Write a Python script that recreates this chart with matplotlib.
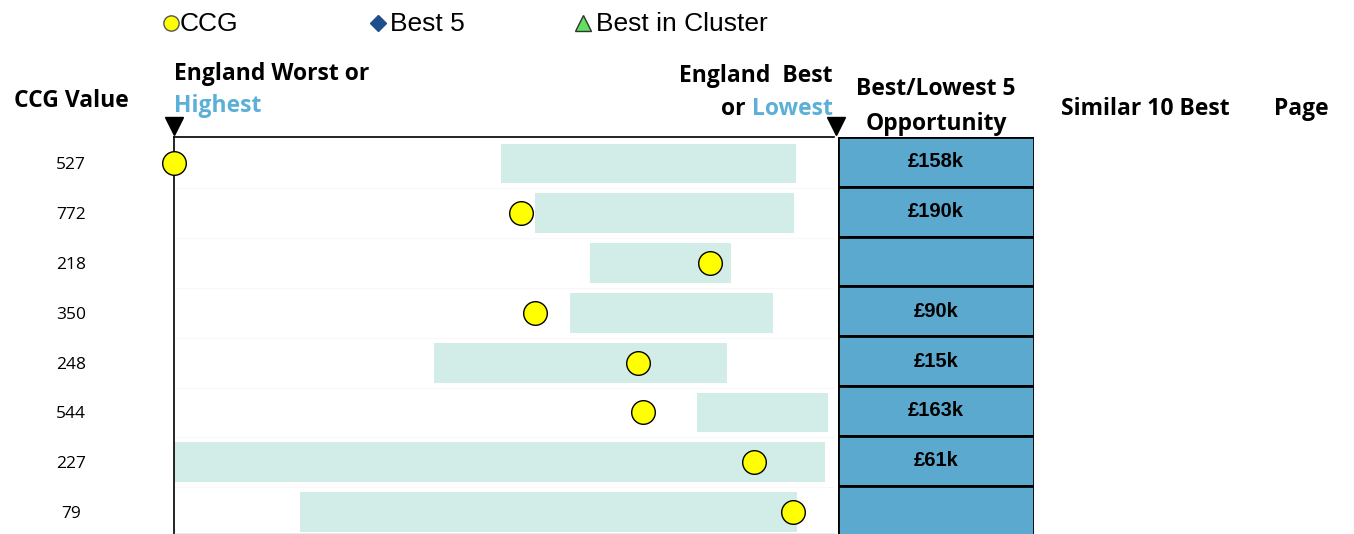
import matplotlib.pyplot as plt
from matplotlib.lines import Line2D

# data
ccg_values = [527, 772, 218, 350, 248, 544, 227, 79]
range_lo = [0.495, 0.547, 0.630, 0.600, 0.394, 0.792, 0.000, 0.191]
range_hi = [0.942, 0.939, 0.844, 0.908, 0.838, 0.991, 0.986, 0.944]
ccg_pos = [0.000, 0.526, 0.812, 0.547, 0.703, 0.711, 0.879, 0.938]
opportunity = ['£158k', '£190k', '', '£90k', '£15k', '£163k', '£61k', '']

W, H = 1354, 534
fig = plt.figure(figsize=(W / 100, H / 100), dpi=100)


def box(x0, y0, x1, y1):
    # pixel box (top-left origin) -> figure fraction rect
    return [x0 / W, 1 - y1 / H, (x1 - x0) / W, (y1 - y0) / H]


n = len(ccg_values)
rows = list(range(n))

ax = fig.add_axes(box(174, 137, 834, 534))
ax.barh(rows, [h - l for l, h in zip(range_lo, range_hi)], left=range_lo,
        height=0.8, color='#d2ece8', zorder=1)
ax.plot(ccg_pos, rows, 'o', ms=17, mfc='#ffff00', mec='black', mew=1,
        zorder=3, clip_on=False)
ax.set_xlim(0, 1)
ax.set_ylim(7.44, -0.532)
ax.set_xticks([])
ax.set_yticks([])
ax.spines['right'].set_visible(False)
ax.spines['left'].set_linewidth(1.2)
ax.spines['top'].set_linewidth(1.2)
ax.spines['bottom'].set_color('#999999')
ax.spines['bottom'].set_linewidth(1)
for i in range(1, n):
    ax.axhline(i - 0.5, color='#f8f8f8', lw=0.8, zorder=0)

# opportunity table
tab = fig.add_axes(box(838, 137, 1034, 534))
tab.barh(rows, [1] * n, left=0, height=1.0, color='#5ba9cf',
         edgecolor='black', linewidth=2)
for i, t in enumerate(opportunity):
    tab.text(0.5, i, t, ha='center', va='center', fontsize=14.5,
             fontweight='bold', family='Liberation Sans')
tab.set_xlim(0, 1)
tab.set_ylim(7.47, -0.5)
tab.axis('off')

# CCG value column
hdr = dict(fontsize=16.5, fontweight='bold', family='Open Sans')
fig.text(71 / W, 1 - 101 / H, 'CCG Value', ha='center', va='center', **hdr)
for i, v in enumerate(ccg_values):
    y = (ax.transData.transform((0, i))[1] - 2) / H
    fig.text(71 / W, y, str(v), ha='center', va='center', fontsize=12.5,
             family='Open Sans')

blue = '#5cb0d8'
fig.text(174 / W, 1 - 74 / H, 'England Worst or', ha='left', va='center', **hdr)
fig.text(174 / W, 1 - 106 / H, 'Highest', ha='left', va='center',
         color=blue, **hdr)
fig.text(833 / W, 1 - 76 / H, 'England  Best', ha='right', va='center', **hdr)
low = fig.text(833 / W, 1 - 109 / H, 'Lowest', ha='right', va='center',
               color=blue, **hdr)
fig.canvas.draw()
x_low = low.get_window_extent().x0
fig.text((x_low - 7) / W, 1 - 109 / H, 'or', ha='right', va='center', **hdr)
fig.text(936 / W, 1 - 89 / H, 'Best/Lowest 5', ha='center', va='center', **hdr)
fig.text(936 / W, 1 - 124 / H, 'Opportunity', ha='center', va='center', **hdr)
fig.text(1145 / W, 1 - 109 / H, 'Similar 10 Best', ha='center', va='center', **hdr)
fig.text(1301 / W, 1 - 109 / H, 'Page', ha='center', va='center', **hdr)

# down-pointing triangles at the scale ends
for px in (174, 836):
    fig.add_artist(Line2D([px / W], [1 - 126 / H], marker='v', ms=13,
                          color='black', transform=fig.transFigure))

# legend
leg = dict(fontsize=19, family='Liberation Sans', va='center', ha='left')
fig.add_artist(Line2D([171 / W], [1 - 23 / H], marker='o', ms=11, mfc='#ffff00',
                      mec='#555555', mew=1, transform=fig.transFigure))
fig.text(180 / W, 1 - 24 / H, 'CCG', **leg)
fig.add_artist(Line2D([378 / W], [1 - 23 / H], marker='D', ms=8, mfc='#1f4e8c',
                      mec='#1f4e8c', transform=fig.transFigure))
fig.text(390 / W, 1 - 24 / H, 'Best 5', **leg)
fig.add_artist(Line2D([583 / W], [1 - 23 / H], marker='^', ms=12, mfc='#5fe05f',
                      mec='#333333', mew=1, transform=fig.transFigure))
fig.text(596 / W, 1 - 24 / H, 'Best in Cluster', **leg)

fig.savefig('out.png', dpi=100)
